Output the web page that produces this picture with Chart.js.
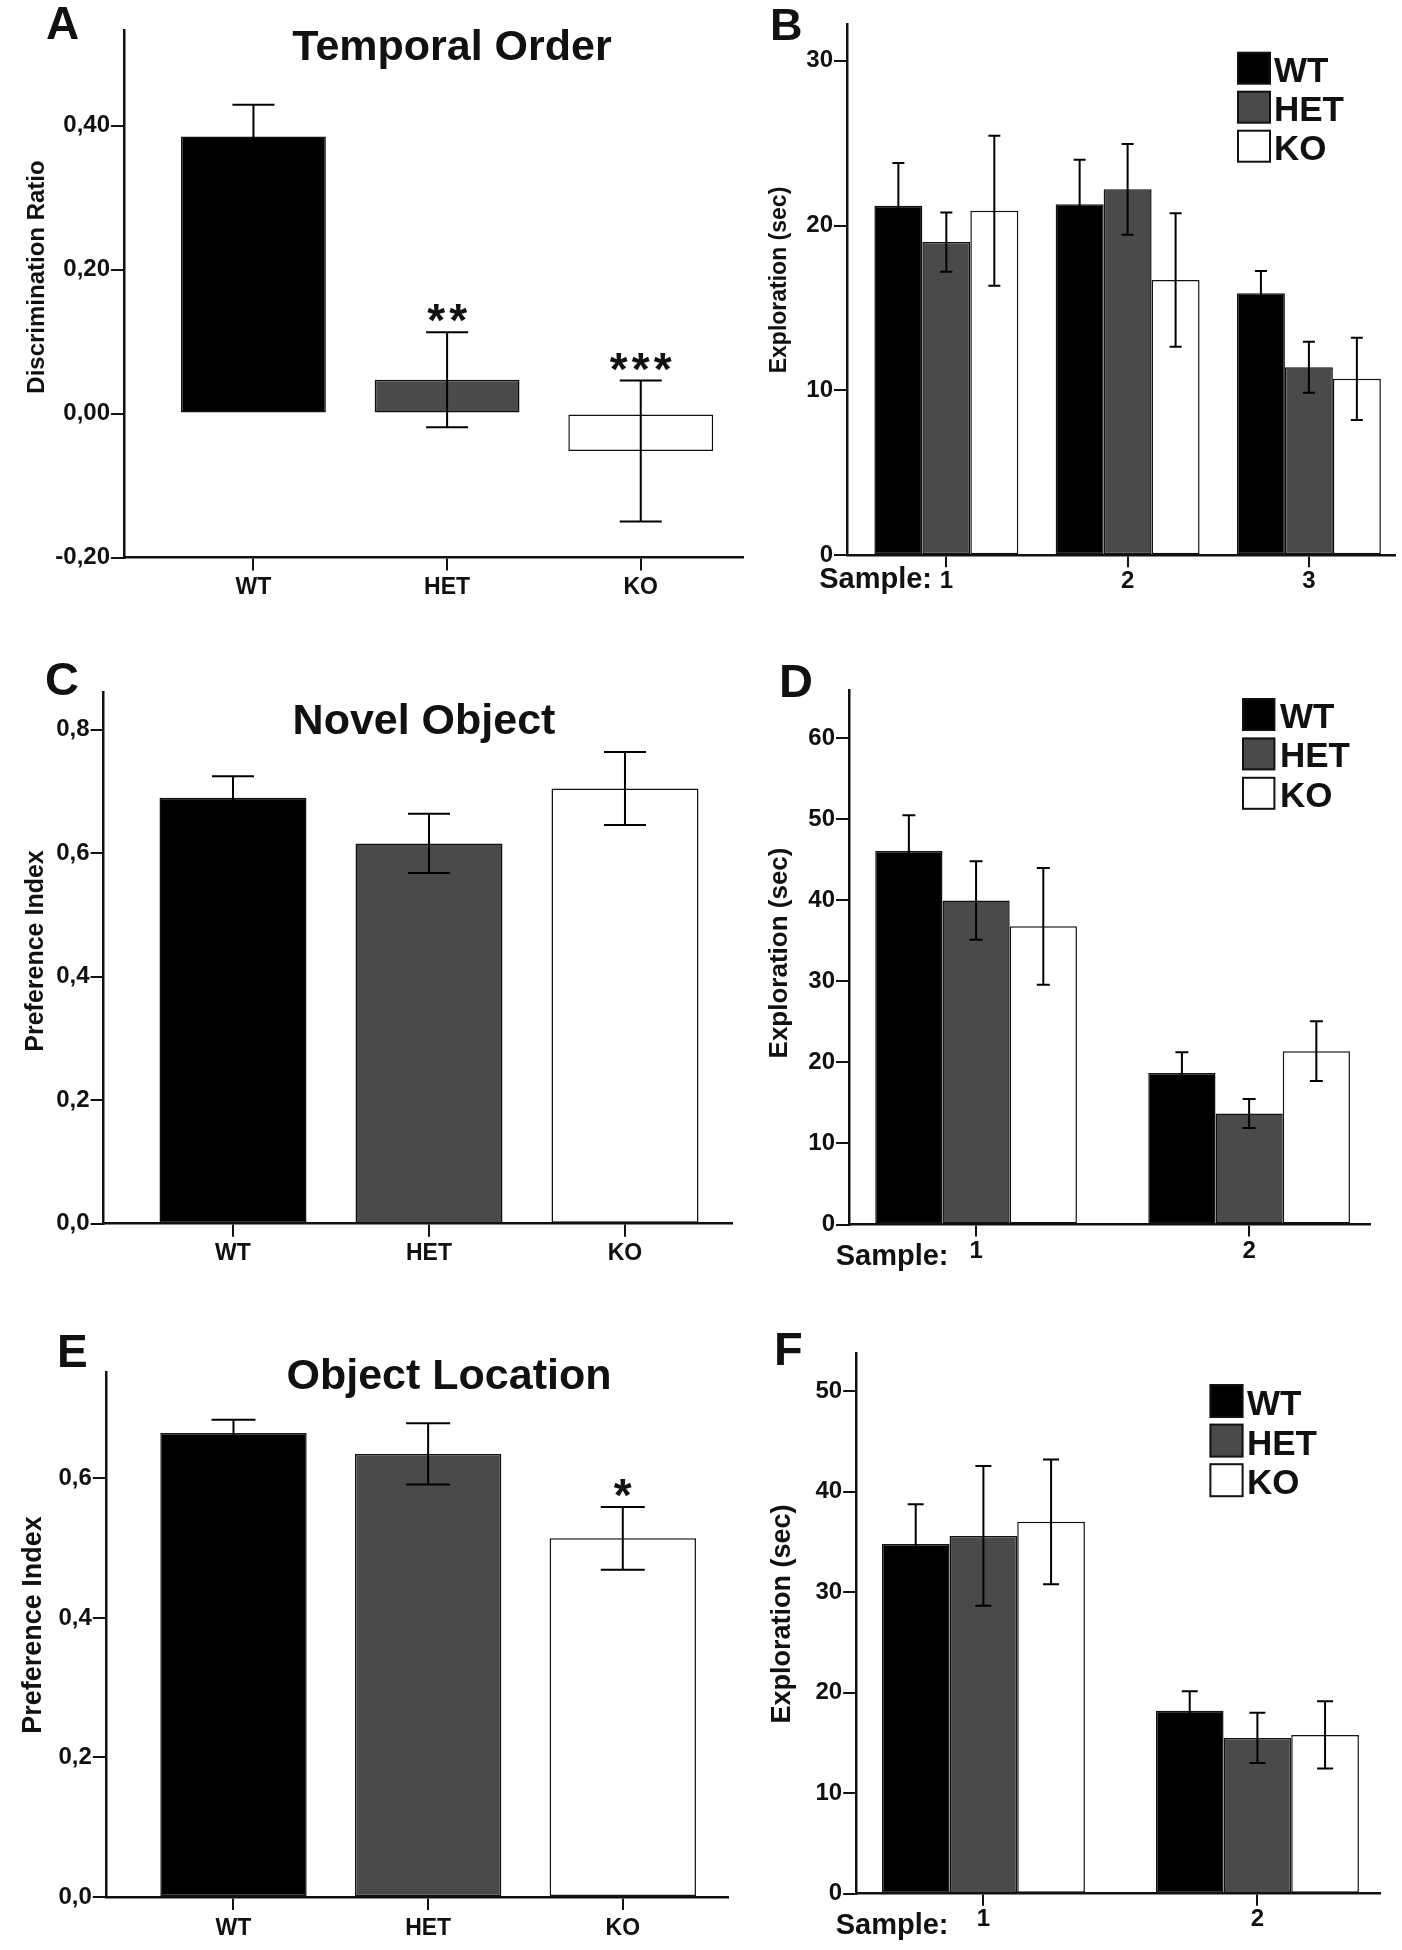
<!DOCTYPE html>
<html>
<head>
<meta charset="utf-8">
<title>Temporal order, novel object and object location</title>
<script src="https://cdn.jsdelivr.net/npm/chart.js@4.4.1/dist/chart.umd.min.js"></script>
<style>
  html, body { margin: 0; background: #fff; }
  #figure { position: relative; width: 1402px; height: 1950px; background: #fff; }
  #figure canvas { position: absolute; }
</style>
</head>
<body>
<div id="figure">
  <canvas id="panelA"></canvas>
  <canvas id="panelB"></canvas>
  <canvas id="panelC"></canvas>
  <canvas id="panelD"></canvas>
  <canvas id="panelE"></canvas>
  <canvas id="panelF"></canvas>
</div>
<script>
// genotypes, same order in every panel
const genotypes = ['WT', 'HET', 'KO'];

// A - temporal order, discrimination ratio
const temporalTicks = [-0.2, 0, 0.2, 0.4];
const temporalMean = [0.385, 0.047, -0.052];
const temporalSem = [0.044, 0.066, 0.098];
const temporalSig = ['', '**', '***'];

// B - exploration in samples 1-3 (sec)
const samplesB = ['1', '2', '3'];
const ticksB = [0, 10, 20, 30];
const wtB = [21.2, 21.3, 15.9];
const hetB = [19.0, 22.2, 11.4];
const koB = [20.9, 16.7, 10.7];
const wtErrB = [2.6, 2.7, 1.35];
const hetErrB = [1.8, 2.75, 1.55];
const koErrB = [4.55, 4.05, 2.5];

// C - novel object, preference index
const novelTicks = [0, 0.2, 0.4, 0.6, 0.8];
const novelMean = [0.690, 0.616, 0.705];
const novelSem = [0.035, 0.048, 0.059];

// D - exploration in samples 1-2 (sec)
const samplesD = ['1', '2'];
const ticksD = [0, 10, 20, 30, 40, 50, 60];
const wtD = [46.1, 18.7];
const hetD = [40.0, 13.7];
const koD = [36.8, 21.4];
const wtErrD = [4.4, 2.55];
const hetErrD = [4.85, 1.8];
const koErrD = [7.2, 3.7];

// E - object location, preference index
const locationTicks = [0, 0.2, 0.4, 0.6];
const locationMean = [0.665, 0.635, 0.514];
const locationSem = [0.019, 0.044, 0.045];
const locationSig = ['', '', '*'];

// F - exploration in samples 1-2 (sec)
const samplesF = ['1', '2'];
const ticksF = [0, 10, 20, 30, 40, 50];
const wtF = [34.8, 18.2];
const hetF = [35.6, 15.5];
const koF = [37.0, 15.8];
const wtErrF = [3.95, 1.95];
const hetErrF = [6.95, 2.5];
const koErrF = [6.2, 3.35];

const ink = '#111111';
const fills = ['#000000', '#4a4a4a', '#ffffff'];
const fontFam = '"Liberation Sans", Arial, Helvetica, sans-serif';
const bold = (size) => `bold ${size}px ${fontFam}`;

// error bars + significance stars, drawn on top of the bars
const errorBars = {
  id: 'errorBars',
  afterDatasetsDraw(chart, args, opts) {
    const ctx = chart.ctx;
    const yScale = chart.scales.y;
    ctx.save();
    ctx.strokeStyle = '#000';
    ctx.lineWidth = 2;
    chart.data.datasets.forEach((ds, i) => {
      chart.getDatasetMeta(i).data.forEach((bar, j) => {
        const v = ds.data[j].y;
        const e = ds.errors[j];
        const top = yScale.getPixelForValue(v + e);
        const bot = yScale.getPixelForValue(v - e);
        const half = opts.cap / 2;
        ctx.beginPath();
        ctx.moveTo(bar.x, top); ctx.lineTo(bar.x, bot);
        ctx.moveTo(bar.x - half, top); ctx.lineTo(bar.x + half, top);
        ctx.moveTo(bar.x - half, bot); ctx.lineTo(bar.x + half, bot);
        ctx.stroke();
        const stars = ds.sig ? ds.sig[j] : '';
        if (stars) {
          ctx.fillStyle = ink;
          ctx.font = bold(46);
          ctx.textAlign = 'center';
          const base = top - 22 + 0.57 * 46;
          for (let k = 0; k < stars.length; k++) {
            ctx.fillText('*', bar.x + (k - (stars.length - 1) / 2) * 22, base);
          }
        }
      });
    });
    ctx.restore();
  }
};

// panel letter, title, axis title, "Sample:" and legend box
const panelText = {
  id: 'panelText',
  afterDraw(chart, args, o) {
    const ctx = chart.ctx;
    const [ox, oy] = o.origin;
    ctx.save();
    ctx.fillStyle = ink;
    ctx.textBaseline = 'alphabetic';

    ctx.font = bold(o.letter.size);
    ctx.textAlign = 'left';
    ctx.fillText(o.letter.text, o.letter.x - ox, o.letter.y - oy);

    if (o.title) {
      ctx.font = bold(o.title.size);
      ctx.textAlign = 'center';
      ctx.fillText(o.title.text, o.title.x - ox, o.title.y - oy);
    }

    ctx.save();
    ctx.translate(o.yTitle.x - ox, o.yTitle.y - oy);
    ctx.rotate(-Math.PI / 2);
    ctx.font = bold(o.yTitle.size);
    ctx.textAlign = 'center';
    ctx.textBaseline = 'middle';
    ctx.fillText(o.yTitle.text, 0, 0);
    ctx.restore();

    if (o.sample) {
      ctx.font = bold(29);
      ctx.textAlign = 'right';
      ctx.fillText('Sample:', o.sample.x - ox, o.sample.y - oy);
    }

    if (o.key) {
      const k = o.key;
      ctx.font = bold(35);
      ctx.textAlign = 'left';
      ctx.lineWidth = 2;
      ctx.strokeStyle = ink;
      chart.data.datasets.forEach((ds, i) => {
        const top = k.y + i * k.step - oy;
        ctx.fillStyle = ds.backgroundColor;
        ctx.fillRect(k.x - ox, top, k.w, k.h);
        ctx.strokeRect(k.x - ox, top, k.w, k.h);
        ctx.fillStyle = ink;
        ctx.fillText(ds.label, k.textX - ox, top + k.h - 2);
      });
    }
    ctx.restore();
  }
};

const singleSeries = (means, sems, sig) => [{
  data: means.map((y, i) => ({ x: i + 1, y })),
  errors: sems,
  sig,
  backgroundColor: fills,
  borderColor: ink,
  borderWidth: 1.5,
  borderSkipped: false
}];

const groupedSeries = (series, errs) => genotypes.map((g, k) => ({
  label: g,
  data: series[k].map((y, i) => ({ x: i + 1, y })),
  errors: errs[k],
  backgroundColor: fills[k],
  borderColor: ink,
  borderWidth: 1.5,
  borderSkipped: false
}));

const axisGrid = (len) => ({
  display: true, drawOnChartArea: false, drawTicks: true,
  tickLength: len, color: ink, lineWidth: 2, offset: false
});

const makePanel = (p) => {
  const canvas = document.getElementById(p.id);
  const [left, top, width, height] = p.box;
  canvas.width = width;
  canvas.height = height;
  canvas.style.left = left + 'px';
  canvas.style.top = top + 'px';
  const ax = p.axis;
  return new Chart(canvas, {
    type: 'bar',
    data: { datasets: p.datasets },
    plugins: [errorBars, panelText],
    options: {
      responsive: false,
      animation: false,
      devicePixelRatio: 1,
      events: [],
      categoryPercentage: p.groupWidth,
      barPercentage: 1,
      layout: { padding: { left: 0, top: ax.top - top, right: left + width - ax.right, bottom: 0 } },
      plugins: {
        legend: { display: false },
        tooltip: { enabled: false },
        errorBars: { cap: p.cap },
        panelText: Object.assign({ origin: [left, top] }, p.text)
      },
      scales: {
        x: {
          type: 'linear',
          bounds: 'data',
          min: p.xRange[0],
          max: p.xRange[1],
          offset: false,
          afterFit: (s) => { s.height = top + height - ax.bottom; },
          afterBuildTicks: (s) => { s.ticks = p.xLabels.map((l, i) => ({ value: i + 1 })); },
          ticks: {
            callback: (v) => p.xLabels[Math.round(v) - 1],
            font: { family: fontFam, size: p.xFont, weight: 'bold' },
            color: ink,
            padding: p.xPad,
            maxRotation: 0,
            autoSkip: false
          },
          grid: axisGrid(p.xTick),
          border: { display: true, color: ink, width: 2.5 }
        },
        y: {
          bounds: 'data',
          min: p.yRange[0],
          max: p.yRange[1],
          afterFit: (s) => { s.width = ax.x - left; },
          afterBuildTicks: (s) => { s.ticks = p.yTicks.map((v) => ({ value: v })); },
          ticks: {
            callback: p.yFormat,
            font: { family: fontFam, size: 24, weight: 'bold' },
            color: ink,
            padding: 1
          },
          grid: axisGrid(13),
          border: { display: true, color: ink, width: 2.5 }
        }
      }
    }
  });
};

const comma = (digits) => (v) => v.toFixed(digits).replace('.', ',');
const plain = (v) => String(v);

makePanel({
  id: 'panelA', box: [0, 0, 760, 640],
  axis: { x: 124, top: 30, bottom: 557.5, right: 743 },
  xRange: [0.3316, 3.528], yRange: [-0.2, 0.533],
  xLabels: genotypes, yTicks: temporalTicks, yFormat: comma(2),
  xTick: 13, xPad: 3, xFont: 23, groupWidth: 0.748, cap: 42,
  datasets: singleSeries(temporalMean, temporalSem, temporalSig),
  text: {
    letter: { text: 'A', x: 46, y: 39, size: 46 },
    title: { text: 'Temporal Order', x: 452, y: 60, size: 43 },
    yTitle: { text: 'Discrimination Ratio', x: 37, y: 277, size: 24 }
  }
});

makePanel({
  id: 'panelB', box: [700, 0, 702, 640],
  axis: { x: 847, top: 24.5, bottom: 555.2, right: 1395 },
  xRange: [0.452, 3.475], yRange: [0, 32.2],
  xLabels: samplesB, yTicks: ticksB, yFormat: plain,
  xTick: 12, xPad: 0, xFont: 24, groupWidth: 0.794, cap: 12,
  datasets: groupedSeries([wtB, hetB, koB], [wtErrB, hetErrB, koErrB]),
  text: {
    letter: { text: 'B', x: 770, y: 40, size: 45 },
    yTitle: { text: 'Exploration (sec)', x: 779.5, y: 280, size: 23 },
    sample: { x: 932, y: 588 },
    key: { x: 1238, y: 52.7, w: 32, h: 31, step: 39, textX: 1274 }
  }
});

makePanel({
  id: 'panelC', box: [0, 640, 760, 650],
  axis: { x: 103.6, top: 692.2, bottom: 1223.7, right: 732 },
  xRange: [0.3398, 3.546], yRange: [0, 0.861],
  xLabels: genotypes, yTicks: novelTicks, yFormat: comma(1),
  xTick: 13, xPad: 3, xFont: 23, groupWidth: 0.75, cap: 42,
  datasets: singleSeries(novelMean, novelSem),
  text: {
    letter: { text: 'C', x: 45, y: 695, size: 47 },
    title: { text: 'Novel Object', x: 424, y: 734, size: 43 },
    yTitle: { text: 'Preference Index', x: 36.6, y: 951, size: 25 }
  }
});

makePanel({
  id: 'panelD', box: [700, 640, 702, 650],
  axis: { x: 849, top: 690.2, bottom: 1224.5, right: 1370 },
  xRange: [0.5346, 2.4427], yRange: [0, 65.95],
  xLabels: samplesD, yTicks: ticksD, yFormat: plain,
  xTick: 12, xPad: 0, xFont: 24, groupWidth: 0.7386, cap: 13,
  datasets: groupedSeries([wtD, hetD, koD], [wtErrD, hetErrD, koErrD]),
  text: {
    letter: { text: 'D', x: 779, y: 697, size: 47 },
    yTitle: { text: 'Exploration (sec)', x: 780, y: 953, size: 26 },
    sample: { x: 948.5, y: 1265 },
    key: { x: 1243, y: 699, w: 31.4, h: 31, step: 39.4, textX: 1280 }
  }
});

makePanel({
  id: 'panelE', box: [0, 1290, 760, 660],
  axis: { x: 105.8, top: 1372.6, bottom: 1897, right: 727.7 },
  xRange: [0.344, 3.539], yRange: [0, 0.7515],
  xLabels: genotypes, yTicks: locationTicks, yFormat: comma(1),
  xTick: 13, xPad: 5, xFont: 23, groupWidth: 0.752, cap: 44,
  datasets: singleSeries(locationMean, locationSem, locationSig),
  text: {
    letter: { text: 'E', x: 57, y: 1367, size: 46 },
    title: { text: 'Object Location', x: 449, y: 1389, size: 43 },
    yTitle: { text: 'Preference Index', x: 33.5, y: 1625, size: 27 }
  }
});

makePanel({
  id: 'panelF', box: [700, 1290, 702, 660],
  axis: { x: 856.2, top: 1353, bottom: 1893.7, right: 1379.6 },
  xRange: [0.5358, 2.446], yRange: [0, 53.8],
  xLabels: samplesF, yTicks: ticksF, yFormat: plain,
  xTick: 12, xPad: -1, xFont: 24, groupWidth: 0.741, cap: 16,
  datasets: groupedSeries([wtF, hetF, koF], [wtErrF, hetErrF, koErrF]),
  text: {
    letter: { text: 'F', x: 774, y: 1365, size: 47 },
    yTitle: { text: 'Exploration (sec)', x: 783, y: 1614, size: 27 },
    sample: { x: 948.5, y: 1934 },
    key: { x: 1210.4, y: 1385, w: 32.2, h: 32, step: 39.6, textX: 1247 }
  }
});
</script>
</body>
</html>
